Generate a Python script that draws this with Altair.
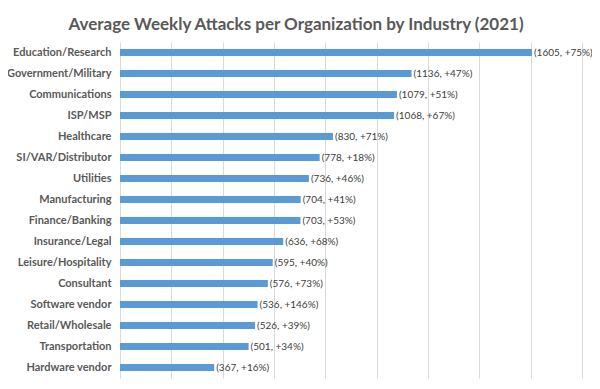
import altair as alt
import pandas as pd

industries = [
    "Education/Research", "Government/Military", "Communications", "ISP/MSP",
    "Healthcare", "SI/VAR/Distributor", "Utilities", "Manufacturing",
    "Finance/Banking", "Insurance/Legal", "Leisure/Hospitality", "Consultant",
    "Software vendor", "Retail/Wholesale", "Transportation", "Hardware vendor",
]
attacks = [1605, 1136, 1079, 1068, 830, 778, 736, 704, 703, 636, 595, 576, 536, 526, 501, 367]
growth = [75, 47, 51, 67, 71, 18, 46, 41, 53, 68, 40, 73, 146, 39, 34, 16]

df = pd.DataFrame({
    "industry": industries,
    "attacks": attacks,
    "growth": growth,
})
df["label"] = [f"({a}, +{g}%)" for a, g in zip(attacks, growth)]

FONT = "Lato"

y = alt.Y(
    "industry:N",
    sort=industries,
    title=None,
    scale=alt.Scale(paddingInner=0.67, paddingOuter=0.335),
    axis=alt.Axis(
        ticks=False, domain=False, labelPadding=9, labelFont=FONT,
        labelFontSize=11, labelFontWeight="bold", labelColor="#595959",
    ),
)
x = alt.X(
    "attacks:Q",
    title=None,
    scale=alt.Scale(domain=[0, 1800], nice=False),
    axis=alt.Axis(
        values=list(range(0, 1801, 200)), labels=False, ticks=False,
        domain=False, grid=True, gridColor="#D9D9D9", gridWidth=1,
    ),
)

bars = alt.Chart(df).mark_bar(color="#5B9BD5").encode(x=x, y=y)
texts = alt.Chart(df).mark_text(
    align="left", baseline="middle", dx=2, font=FONT, fontSize=10, color="#404040"
).encode(x="attacks:Q", y=alt.Y("industry:N", sort=industries), text="label:N")

chart = (
    alt.layer(bars, texts)
    .properties(
        width=462,
        height=336,
        autosize=alt.AutoSizeParams(type="none"),
        padding={"left": 112, "top": 34, "right": 10, "bottom": 3},
        title=alt.TitleParams(
            "Average Weekly Attacks per Organization by Industry (2021)",
            font=FONT, fontSize=17, fontWeight="bold", color="#595959",
            anchor="middle", dx=-55, offset=8,
        ),
        background="white",
    )
    .configure_view(stroke=None)
)

chart.save("out.html", embed_options={"renderer": "svg", "actions": False})
